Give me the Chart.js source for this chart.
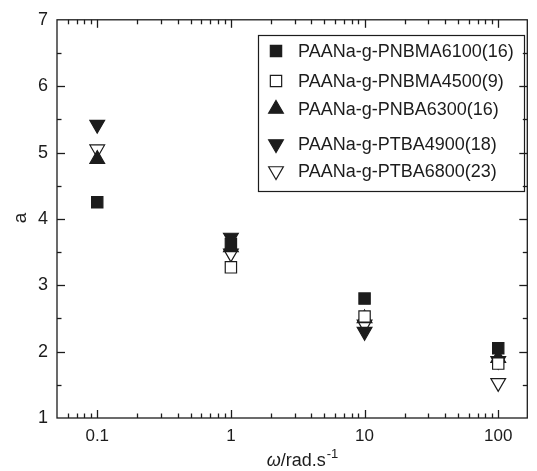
<!DOCTYPE html>
<html>
<head>
<meta charset="utf-8">
<script src="https://cdn.jsdelivr.net/npm/chart.js@4.4.0/dist/chart.umd.min.js"></script>
<style>
  html, body { margin: 0; padding: 0; background: #fff; }
  #wrap { width: 537px; height: 471px; }
</style>
</head>
<body>
<div id="wrap"><canvas id="chart"></canvas></div>
<script>
// frequencia (rad/s) e valores de a para cada amostra
const freq = [0.1, 1, 10, 100];
const pnbma6100 = [4.25, 3.62, 2.8, 2.05];
const pnbma4500 = [null, 3.27, 2.53, 1.82];
const pnba6300 = [4.9, 3.57, 2.5, 1.9];
const ptba4900 = [5.42, 3.72, 2.3, 1.86];
const ptba6800 = [5.05, 3.48, 2.41, 1.53];

const seriesNames = [
  "PAANa-g-PNBMA6100(16)",
  "PAANa-g-PNBMA4500(9)",
  "PAANa-g-PNBA6300(16)",
  "PAANa-g-PTBA4900(18)",
  "PAANa-g-PTBA6800(23)",
];

const xTickValues = [0.1, 1, 10, 100];
const yTickValues = [1, 2, 3, 4, 5, 6, 7];

const ink = "#1c1c1c";
const FONT = "'Liberation Sans', Arial, sans-serif";

const toPoints = (vals) =>
  freq.map((f, i) => ({ x: f, y: vals[i] })).filter((p) => p.y !== null);

const markers = [
  { style: "rect", rotation: 0, fill: ink, radius: 8 },
  { style: "rect", rotation: 0, fill: "#fff", radius: 8 },
  { style: "triangle", rotation: 0, fill: ink, radius: 8.5 },
  { style: "triangle", rotation: 180, fill: ink, radius: 8.5 },
  { style: "triangle", rotation: 180, fill: "#fff", radius: 8.5 },
];

const allValues = [pnbma6100, pnbma4500, pnba6300, ptba4900, ptba6800];

const datasets = allValues.map((vals, i) => ({
  label: seriesNames[i],
  data: toPoints(vals),
  pointStyle: markers[i].style,
  rotation: markers[i].rotation,
  pointRadius: markers[i].radius,
  pointHoverRadius: markers[i].radius,
  backgroundColor: markers[i].fill,
  borderColor: ink,
  borderWidth: 1.2,
  showLine: false,
}));

// moldura com ticks para dentro (em cima, embaixo, esquerda, direita)
const frameTicks = {
  id: "frameTicks",
  beforeDatasetsDraw(chart) {
    const { ctx, chartArea: a, scales } = chart;
    const xs = scales.x, ys = scales.y;
    ctx.save();
    ctx.strokeStyle = ink;
    ctx.lineWidth = 1.3;
    ctx.strokeRect(a.left, a.top, a.right - a.left, a.bottom - a.top);

    const line = (x1, y1, x2, y2) => {
      ctx.beginPath();
      ctx.moveTo(x1, y1);
      ctx.lineTo(x2, y2);
      ctx.stroke();
    };

    // eixo x (log): maiores nas potencias de 10, menores 2..9
    for (let e = -2; e <= 3; e++) {
      for (let m = 1; m <= 9; m++) {
        const v = m * Math.pow(10, e);
        if (v <= xs.min || v >= xs.max) continue;
        const px = Math.round(xs.getPixelForValue(v)) + 0.5;
        const len = m === 1 ? 8 : 4.5;
        line(px, a.bottom, px, a.bottom - len);
        line(px, a.top, px, a.top + len);
      }
    }
    // eixo y: maiores nos inteiros, menores nos meios
    for (let v = 1; v <= 7; v += 0.5) {
      if (v <= ys.min || v >= ys.max) continue;
      const py = Math.round(ys.getPixelForValue(v)) + 0.5;
      const len = Number.isInteger(v) ? 8 : 4.5;
      line(a.left, py, a.left + len, py);
      line(a.right, py, a.right - len, py);
    }
    ctx.restore();
  },
  afterDraw(chart) {
    const { ctx } = chart;
    ctx.save();
    ctx.fillStyle = ink;

    // titulo do eixo y
    ctx.font = `19px ${FONT}`;
    ctx.textAlign = "center";
    ctx.textBaseline = "middle";
    ctx.translate(21, 218);
    ctx.rotate(-Math.PI / 2);
    ctx.fillText("a", 0, 0);
    ctx.restore();

    // titulo do eixo x: ω italico + /rad.s + expoente -1
    ctx.save();
    ctx.fillStyle = ink;
    ctx.textBaseline = "alphabetic";
    ctx.textAlign = "left";
    const partA = "ω", partB = "/rad.s", partC = "-1";
    ctx.font = `italic 18px ${FONT}`;
    const wA = ctx.measureText(partA).width;
    ctx.font = `18px ${FONT}`;
    const wB = ctx.measureText(partB).width;
    ctx.font = `13px ${FONT}`;
    const wC = ctx.measureText(partC).width;
    let x = 302 - (wA + wB + wC) / 2;
    const base = 466;
    ctx.font = `italic 18px ${FONT}`;
    ctx.fillText(partA, x, base);
    x += wA;
    ctx.font = `18px ${FONT}`;
    ctx.fillText(partB, x, base);
    x += wB;
    ctx.font = `13px ${FONT}`;
    ctx.fillText(partC, x + 1, base - 8);

    // legenda dentro do grafico
    const box = { left: 258, top: 35, right: 524, bottom: 191 };
    ctx.lineWidth = 1.2;
    ctx.strokeStyle = ink;
    ctx.strokeRect(box.left + 0.5, box.top + 0.5, box.right - box.left, box.bottom - box.top);
    const rowsY = [51, 81, 109, 144, 171];
    ctx.font = `18px ${FONT}`;
    ctx.textBaseline = "middle";
    chart.data.datasets.forEach((ds, i) => {
      ctx.fillStyle = ds.backgroundColor;
      ctx.strokeStyle = ink;
      ctx.lineWidth = 1.2;
      Chart.helpers.drawPoint(
        ctx,
        { pointStyle: ds.pointStyle, rotation: ds.rotation, radius: ds.pointRadius, borderWidth: 1.2 },
        276,
        rowsY[i]
      );
      ctx.fillStyle = ink;
      ctx.fillText(ds.label, 298, rowsY[i] + 1);
    });
    ctx.restore();
  },
};

new Chart(document.getElementById("chart").getContext("2d"), {
  type: "scatter",
  data: { datasets },
  options: {
    responsive: true,
    maintainAspectRatio: false,
    animation: false,
    layout: { padding: { top: 18, right: 2, left: 0, bottom: 0 } },
    plugins: {
      legend: { display: false },
      tooltip: { enabled: false },
    },
    scales: {
      x: {
        type: "logarithmic",
        min: 0.05,
        max: 165,
        grid: { display: false, drawTicks: false },
        border: { display: false },
        afterBuildTicks: (scale) => {
          scale.ticks = xTickValues.map((v) => ({ value: v }));
        },
        afterFit: (scale) => {
          scale.height = 53;
        },
        ticks: {
          padding: 8,
          color: ink,
          autoSkip: false,
          maxRotation: 0,
          font: { family: FONT, size: 17 },
          callback: (v) => String(v),
        },
      },
      y: {
        min: 1,
        max: 7,
        grid: { display: false, drawTicks: false },
        border: { display: false },
        afterBuildTicks: (scale) => {
          scale.ticks = yTickValues.map((v) => ({ value: v }));
        },
        afterFit: (scale) => {
          scale.width = 57;
        },
        ticks: {
          padding: 9,
          color: ink,
          font: { family: FONT, size: 18 },
        },
      },
    },
  },
  plugins: [frameTicks],
});
</script>
</body>
</html>
